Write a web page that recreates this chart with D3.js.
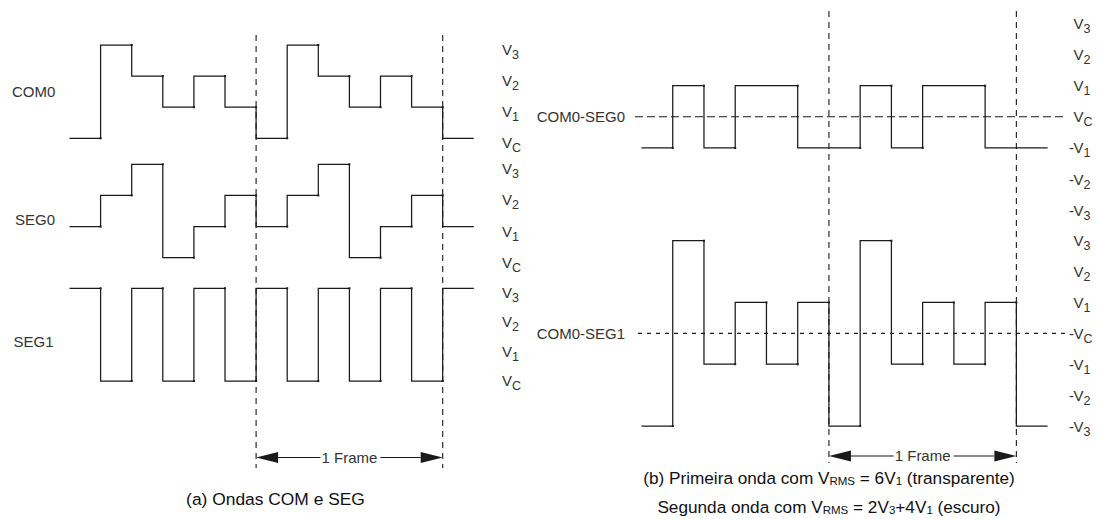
<!DOCTYPE html>
<html><head><meta charset="utf-8">
<script src="https://cdn.jsdelivr.net/npm/d3@7"></script>
<style>
body{margin:0;background:#fff}
svg{display:block}
text{font-family:"Liberation Sans",Arial,Helvetica,sans-serif;fill:#333}
</style>
</head><body>
<svg id="c" width="1098" height="519"></svg>
<script>
// ---- data (levels per time slot) ----
const slotCount = 13;
const com0     = [0,3,2,1,2,1,0,3,2,1,2,1,0];
const seg0     = [1,2,3,0,1,2,1,2,3,0,1,2,1];
const seg1     = [3,0,3,0,3,0,3,0,3,0,3,0,3];
const com0seg0 = [-1,1,-1,1,1,-1,-1,1,-1,1,1,-1,-1];
const com0seg1 = [-3,3,-1,1,-1,1,-3,3,-1,1,-1,1,-3];
const frameMarks = [6,12];
const levelsA = [3,2,1,0];
const levelSubsA = ["3","2","1","C"];
const levelsB = [3,2,1,0,-1,-2,-3];
const levelSubsB = ["3","2","1","C","1","2","3"];
const namesA = ["COM0","SEG0","SEG1"];
const namesB = ["COM0-SEG0","COM0-SEG1"];
const frameText = "1 Frame";
const captionA = "(a) Ondas COM e SEG";

const svg = d3.select("#c");
const ink = "#1a1a1a";

// ---- scales ----
const xA = d3.scaleLinear().domain([0, slotCount]).range([69.5, 473.8]);
const xB = d3.scaleLinear().domain([0, slotCount]).range([641.5, 1047.6]);
const yA = [
  d3.scaleLinear().domain([0,3]).range([138.3, 45]),
  d3.scaleLinear().domain([0,3]).range([257.7, 164.3]),
  d3.scaleLinear().domain([0,3]).range([381, 288.3])
];
const yB = [
  d3.scaleLinear().domain([-3,3]).range([210.1, 23.5]),
  d3.scaleLinear().domain([-3,3]).range([426, 240.7])
];

function stepPts(arr){
  const p = arr.map((v,i)=>[i,v]);
  p.push([arr.length, arr[arr.length-1]]);
  return p;
}
function drawWave(g, arr, x, y){
  const line = d3.line().curve(d3.curveStepAfter).x(d=>x(d[0])).y(d=>y(d[1]));
  g.append("path").attr("d", line(stepPts(arr)))
    .attr("fill","none").attr("stroke",ink).attr("stroke-width",1.25);
  const dots = [];
  for(let i=0;i<arr.length-1;i++) if(arr[i]!==arr[i+1]) dots.push([i+1, arr[i]]);
  g.selectAll(null).data(dots).enter().append("rect")
    .attr("x",d=>x(d[0])-1).attr("y",d=>y(d[1])-1).attr("width",2).attr("height",2)
    .attr("fill",ink);
}

// ---- vertical frame lines ----
const gv = svg.append("g").attr("stroke",ink).attr("stroke-width",1.1).attr("stroke-dasharray","6,5");
frameMarks.forEach(t=>{
  gv.append("line").attr("x1",xA(t)).attr("x2",xA(t)).attr("y1",35).attr("y2",468);
  gv.append("line").attr("x1",xB(t)).attr("x2",xB(t)).attr("y1",11).attr("y2",463);
});

// ---- horizontal reference lines (panel b) ----
svg.append("line").attr("x1",635).attr("x2",1067).attr("y1",yB[0](0)).attr("y2",yB[0](0))
  .attr("stroke",ink).attr("stroke-width",1.1).attr("stroke-dasharray","8,4");
svg.append("line").attr("x1",638).attr("x2",1067).attr("y1",yB[1](0)).attr("y2",yB[1](0))
  .attr("stroke",ink).attr("stroke-width",1.1).attr("stroke-dasharray","4,5");

// ---- waves ----
const g = svg.append("g");
[com0, seg0, seg1].forEach((arr,i)=>drawWave(g, arr, xA, yA[i]));
[com0seg0, com0seg1].forEach((arr,i)=>drawWave(g, arr, xB, yB[i]));

// ---- names ----
const nameAX = [12, 15, 13.5];
const nameAY = [91.7, 220, 341.7];
namesA.forEach((n,i)=>{
  svg.append("text").attr("x",nameAX[i]).attr("y",nameAY[i]+5.3).attr("font-size",15).text(n);
});
namesB.forEach((n,i)=>{
  svg.append("text").attr("x",625).attr("y",yB[i](0)+5.3).attr("text-anchor","end").attr("font-size",15).text(n);
});

// ---- level labels ----
function levelLabel(x, yBase, sub, minus){
  const t = svg.append("text").attr("x",x).attr("y",yBase).attr("font-size",15);
  t.append("tspan").text("V");
  t.append("tspan").attr("font-size",12.5).attr("dy",4).text(sub);
  if(minus) svg.append("text").attr("x",x+0.5).attr("y",yBase).attr("text-anchor","end").attr("font-size",15).text("-");
}
yA.forEach((y,k)=>{
  levelsA.forEach((lv,j)=>levelLabel(502, y(lv)+10 - (k===2 ? (3-lv)*1.8 : 0), levelSubsA[j], false));
});
yB.forEach((y,k)=>{
  levelsB.forEach((lv,j)=>levelLabel(1073.5, y(lv)+5.5, levelSubsB[j], lv<0 || (k===1 && lv===0)));
});

// ---- frame arrows ----
function frameArrow(x, yy, t1, t2){
  const a = svg.append("g");
  const x1 = x(t1), x2 = x(t2), cx = (x1+x2)/2;
  const txt = a.append("text").attr("x",cx).attr("y",yy+5.3).attr("text-anchor","middle")
    .attr("font-size",15).text(frameText);
  const w = txt.node().getComputedTextLength();
  const head = 22, hh = 5.5;
  a.append("path").attr("d",`M${x1},${yy}L${x1+head},${yy-hh}L${x1+head},${yy+hh}Z`).attr("fill",ink);
  a.append("path").attr("d",`M${x2},${yy}L${x2-head},${yy-hh}L${x2-head},${yy+hh}Z`).attr("fill",ink);
  a.append("line").attr("x1",x1+head).attr("x2",cx-w/2-1).attr("y1",yy).attr("y2",yy).attr("stroke",ink).attr("stroke-width",1.2);
  a.append("line").attr("x1",cx+w/2+3).attr("x2",x2-head).attr("y1",yy).attr("y2",yy).attr("stroke",ink).attr("stroke-width",1.2);
}
frameArrow(xA, 457.5, frameMarks[0], frameMarks[1]);
frameArrow(xB, 456, frameMarks[0], frameMarks[1]);

// ---- captions ----
svg.append("text").attr("x",275.5).attr("y",505).attr("text-anchor","middle")
  .attr("font-size",17.4).style("fill","#111").text(captionA);

function richLine(parts, cx, yy){
  const t = svg.append("text").attr("x",cx).attr("y",yy).attr("text-anchor","middle")
    .attr("font-size",17.2).style("fill","#111");
  let shifted = false;
  parts.forEach(p=>{
    const sp = t.append("tspan").text(p.s);
    if(p.sub){ sp.attr("font-size",11.5).attr("dy", 1.5); shifted = true; }
    else if(shifted){ sp.attr("dy",-1.5); shifted = false; }
  });
}
richLine([{s:"(b) Primeira onda com V"},{s:"RMS",sub:true},{s:" = 6V"},{s:"1",sub:true},{s:" (transparente)"}], 829, 483.5);
richLine([{s:"Segunda onda com V"},{s:"RMS",sub:true},{s:" = 2V"},{s:"3",sub:true},{s:"+4V"},{s:"1",sub:true},{s:" (escuro)"}], 829, 512.5);
</script>
</body></html>
